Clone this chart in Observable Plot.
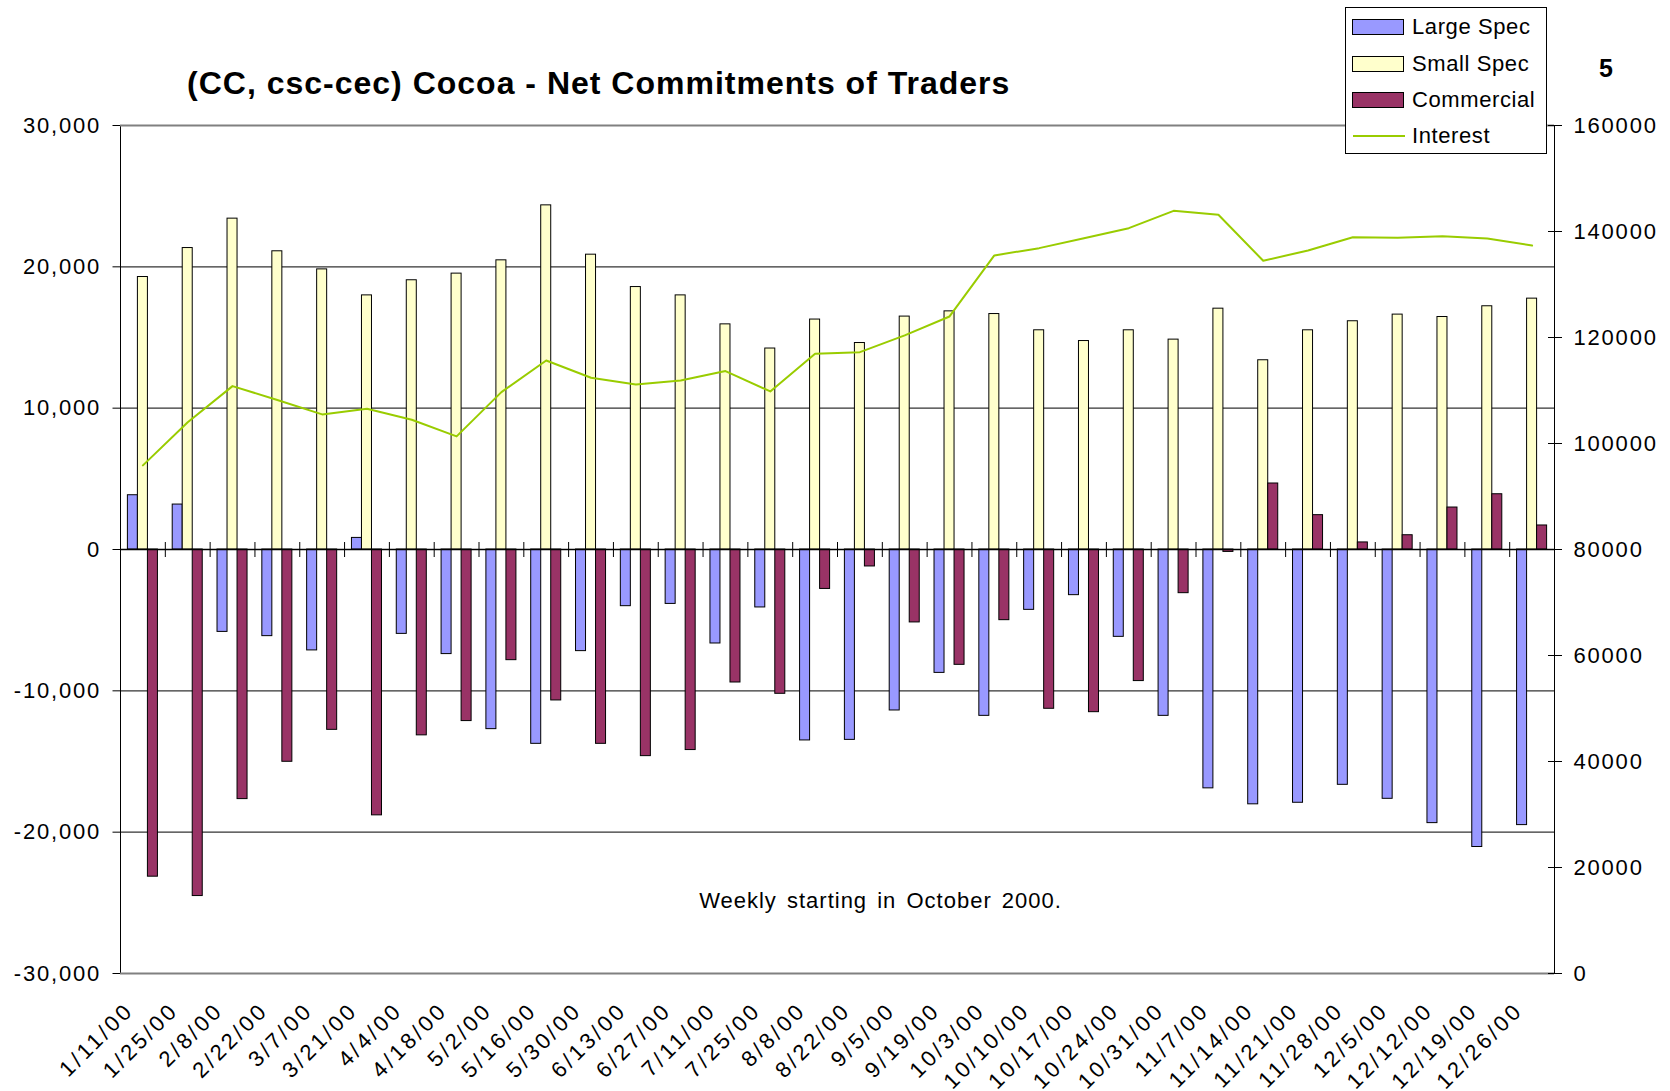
<!DOCTYPE html>
<html><head><meta charset="utf-8">
<script src="https://cdn.jsdelivr.net/npm/d3@7"></script>
<script src="https://cdn.jsdelivr.net/npm/@observablehq/plot@0.6"></script>
<style>
html,body{margin:0;padding:0;background:#fff;}
#wrap{position:relative;width:1670px;height:1091px;font-family:"Liberation Sans",Arial,sans-serif;color:#000;}
#chart{position:absolute;left:0;top:0;}
#title{position:absolute;left:187px;top:67px;font-weight:bold;font-size:32px;line-height:32px;letter-spacing:1px;white-space:nowrap;}
#page{position:absolute;left:1599px;top:56px;font-weight:bold;font-size:25px;line-height:25px;}
#legend{position:absolute;left:1345px;top:7px;width:200px;height:145px;border:1px solid #000;background:#fff;}
.item{position:absolute;left:0;height:0;width:100%;}
.sw{position:absolute;left:6px;width:50px;height:14px;border:1px solid #000;top:-8px;}
.ln{position:absolute;left:7px;width:52px;height:0;border-top:2px solid #99CC00;top:-1px;}
.lab{position:absolute;left:66px;top:-13px;font-size:22px;line-height:26px;letter-spacing:0.6px;white-space:nowrap;}
#chart svg text{letter-spacing:1.8px;}
</style></head>
<body>
<div id="wrap">
  <div id="chart"></div>
  <div id="title"></div>
  <div id="page"></div>
  <div id="legend"></div>
</div>
<script>
const dates = ["1/11/00","1/25/00","2/8/00","2/22/00","3/7/00","3/21/00","4/4/00","4/18/00","5/2/00","5/16/00","5/30/00","6/13/00","6/27/00","7/11/00","7/25/00","8/8/00","8/22/00","9/5/00","9/19/00","10/3/00","10/10/00","10/17/00","10/24/00","10/31/00","11/7/00","11/14/00","11/21/00","11/28/00","12/5/00","12/12/00","12/19/00","12/26/00"];
const largeSpec = [3840, 3180, -5830, -6130, -7140, 820, -5970, -7400, -12710, -13750, -7190, -4010, -3850, -6650, -4100, -13510, -13470, -11390, -8730, -11770, -4270, -3230, -6180, -11770, -16900, -18030, -17920, -16650, -17640, -19360, -21050, -19500];
const smallSpec = [19280, 21330, 23410, 21100, 19820, 17980, 19050, 19520, 20460, 24350, 20860, 18570, 17980, 15930, 14220, 16270, 14610, 16480, 16850, 16660, 15510, 14750, 15510, 14850, 17040, 13390, 15510, 16150, 16620, 16450, 17210, 17750];
const commercial = [-23150, -24520, -17660, -15020, -12760, -18810, -13150, -12140, -7830, -10680, -13750, -14620, -14190, -9410, -10210, -2790, -1200, -5160, -8160, -5000, -11270, -11510, -9310, -3090, -170, 4670, 2430, 500, 1010, 2970, 3910, 1700];
const interest = [95870, 104000, 110830, 108200, 105490, 106560, 104490, 101340, 109700, 115670, 112410, 111150, 111900, 113660, 109830, 116940, 117240, 120390, 123970, 135480, 136860, 138740, 140630, 143900, 143150, 134480, 136420, 138930, 138810, 139120, 138680, 137360];
const leftTicks = [-30000, -20000, -10000, 0, 10000, 20000, 30000];
const rightTicks = [0, 20000, 40000, 60000, 80000, 100000, 120000, 140000, 160000];
const seriesNames = ["Large Spec", "Small Spec", "Commercial", "Interest"];
const seriesColors = ["#9999FF", "#FFFFCC", "#993366", "#99CC00"];
const titleText = "(CC, csc-cec) Cocoa - Net Commitments of Traders";
const pageText = "5";
const caption = "Weekly starting in October 2000.";

// interest (0..160000) is drawn against the right axis, mapped onto the left domain (-30000..30000)
const toLeft = v => (v - 80000) * 60000 / 160000;
const fromLeft = v => Math.round(v * 160000 / 60000 + 80000);

const rows = dates.map((date, i) => ({date, large: largeSpec[i], small: smallSpec[i], comm: commercial[i], interest: interest[i]}));

const W = 1670, H = 1091, ML = 120, MR = 116, MT = 125, MB = 118;
const padInner = 0.33;
const step = (W - ML - MR) / dates.length;
const barW = step * (1 - padInner) / 3;

const chart = Plot.plot({
  width: W, height: H, marginLeft: ML, marginRight: MR, marginTop: MT, marginBottom: MB,
  style: {fontFamily: '"Liberation Sans", Arial, sans-serif', fontSize: "22px", color: "#000", background: "#fff", overflow: "visible"},
  x: {type: "band", domain: dates, paddingInner: padInner, paddingOuter: padInner / 2, round: false},
  y: {domain: [-30000, 30000]},
  marks: [
    Plot.ruleY(leftTicks.filter(t => t !== 0 && Math.abs(t) !== 30000), {stroke: "#333", strokeWidth: 1.3}),
    Plot.frame({stroke: "#000"}),
    Plot.ruleY([leftTicks[0], leftTicks[leftTicks.length - 1]], {stroke: "#808080", strokeWidth: 2}),
    Plot.barY(rows, {x: "date", y1: 0, y2: "large", fill: seriesColors[0], stroke: "#000", strokeWidth: 1, insetLeft: 0, insetRight: 2 * barW}),
    Plot.barY(rows, {x: "date", y1: 0, y2: "small", fill: seriesColors[1], stroke: "#000", strokeWidth: 1, insetLeft: barW, insetRight: barW}),
    Plot.barY(rows, {x: "date", y1: 0, y2: "comm", fill: seriesColors[2], stroke: "#000", strokeWidth: 1, insetLeft: 2 * barW, insetRight: 0}),
    Plot.ruleY([0], {stroke: "#000", strokeWidth: 1.3}),
    Plot.ruleX(dates.slice(0, -1), {x: d => d, y1: 0, y2: 0, dx: step / 2, insetTop: -7, insetBottom: -8, stroke: "#000", strokeWidth: 1}),
    Plot.line(rows, {x: "date", y: d => toLeft(d.interest), stroke: seriesColors[3], strokeWidth: 2}),
    Plot.axisY({anchor: "left", ticks: leftTicks, tickFormat: d => d.toLocaleString("en-US"), tickSize: 7.5, tickPadding: 12, fontSize: 22, label: null}),
    Plot.axisY({anchor: "right", ticks: rightTicks.map(toLeft), tickFormat: v => String(fromLeft(v)), tickSize: 7, tickPadding: 12, fontSize: 22, label: null}),
    Plot.axisY({anchor: "right", ticks: rightTicks.map(toLeft), tickSize: -7, tickFormat: () => "", label: null}),
    Plot.axisX({anchor: "bottom", tickRotate: -45, tickSize: 0, tickPadding: 33, dx: -13, fontSize: 22, label: null}),
    Plot.text([caption], {frameAnchor: "bottom", dx: 43, dy: -73, lineAnchor: "middle", fontSize: 22})
  ]
});
document.getElementById("chart").appendChild(chart);
// text spacing tweaks
const dateSet = new Set(dates);
chart.querySelectorAll("text").forEach(t => {
  if (t.textContent === caption) { t.style.letterSpacing = "1px"; t.style.wordSpacing = "3px"; }
  else if (dateSet.has(t.textContent)) { t.style.letterSpacing = "3.2px"; }
});

document.getElementById("title").textContent = titleText;
document.getElementById("page").textContent = pageText;
const legend = document.getElementById("legend");
const rowY = [19, 55.5, 92, 128];
seriesNames.forEach((name, i) => {
  const it = document.createElement("div");
  it.className = "item";
  it.style.top = rowY[i] + "px";
  const mark = document.createElement("div");
  if (i < 3) { mark.className = "sw"; mark.style.background = seriesColors[i]; }
  else { mark.className = "ln"; mark.style.borderTopColor = seriesColors[i]; }
  const lab = document.createElement("div");
  lab.className = "lab";
  lab.textContent = name;
  it.appendChild(mark); it.appendChild(lab);
  legend.appendChild(it);
});
</script>
</body></html>
